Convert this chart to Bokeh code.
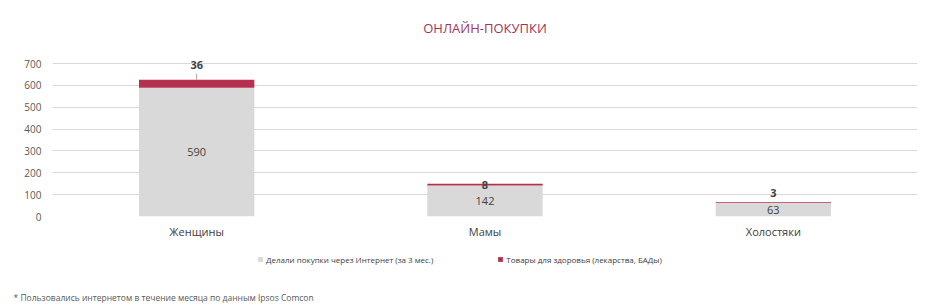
from bokeh.plotting import figure
from bokeh.layouts import column
from bokeh.models import ColumnDataSource, Legend, LegendItem, FactorRange, Range1d, Label
from bokeh.embed import file_html
from bokeh.resources import INLINE
from bokeh.core.properties import value

categories = ["Женщины", "Мамы", "Холостяки"]
online = [590, 142, 63]
health = [36, 8, 3]
series_names = ["Делали покупки через Интернет (за 3 мес.)", "Товары для здоровья (лекарства, БАДы)"]
y_ticks = [0, 100, 200, 300, 400, 500, 600, 700]
title_text = "ОНЛАЙН-ПОКУПКИ"
footnote = "* Пользовались интернетом в течение месяца по данным Ipsos Comcon"

GRAY = "#d9d9d9"
RED = "#b5304f"
FONT = "Open Sans"

top_total = [a + b for a, b in zip(online, health)]
src = ColumnDataSource(dict(
    cat=categories, online=online, health=health,
    base=[0] * 3, top_total=top_total,
    mid_online=[v / 2 for v in online],
    mid_health=[a + b / 2 for a, b in zip(online, health)],
    lab_online=[str(v) for v in online],
    lab_health=[str(v) for v in health],
    health_off=[-19, 0, -9],
))

H1 = 250
p = figure(x_range=FactorRange(*categories, range_padding=0), y_range=Range1d(0, 760),
           width=939, height=H1, output_backend="svg", toolbar_location=None,
           min_border_left=52, min_border_right=22, min_border_top=50, min_border_bottom=34)
p.outline_line_color = None
p.background_fill_color = "white"
p.border_fill_color = "white"

p.title.text = title_text
p.title.align = "center"
p.title.text_color = "#a3345a"
p.title.text_font = FONT
p.title.text_font_size = "13px"
p.title.text_font_style = "normal"
p.title.offset = -7
p.title.standoff = 27

r1 = p.vbar(x="cat", bottom="base", top="online", width=0.4, source=src, color=GRAY, line_color=None)
r2 = p.vbar(x="cat", bottom="online", top="top_total", width=0.4, source=src, color=RED, line_color=None)

p.text(x="cat", y="mid_online", text="lab_online", source=src, text_align="center",
       text_baseline="middle", text_font=value(FONT), text_font_size="11px", text_color="#404040")
p.text(x="cat", y="mid_health", text="lab_health", source=src, text_align="center",
       text_baseline="middle", text_font=value(FONT), text_font_size="11px", text_color="#404040",
       text_font_style="bold", y_offset="health_off")
p.segment(x0=[categories[0]], y0=[top_total[0]], x1=[categories[0]], y1=[top_total[0] + 28],
          line_color="#a6a6a6", line_width=1)

p.yaxis.ticker = y_ticks
p.yaxis.axis_line_color = None
p.yaxis.major_tick_line_color = None
p.yaxis.minor_tick_line_color = None
p.yaxis.major_label_text_font = FONT
p.yaxis.major_label_text_font_size = "10px"
p.yaxis.major_label_text_color = "#595959"
p.yaxis.major_label_standoff = 5

p.xaxis.axis_line_color = None
p.xaxis.major_tick_line_color = None
p.xaxis.major_label_text_font = FONT
p.xaxis.major_label_text_font_size = "11px"
p.xaxis.major_label_text_color = "#404040"
p.xaxis.major_label_standoff = 1

p.xgrid.grid_line_color = None
p.ygrid.grid_line_color = "#d9d9d9"
p.ygrid.ticker = y_ticks

# bottom strip: legend and footnote
H2 = 306 - H1
q = figure(x_range=Range1d(0, 939), y_range=Range1d(0, H2), width=939, height=H2,
           output_backend="svg", toolbar_location=None, min_border=0,
           x_axis_type=None, y_axis_type=None)
q.frame_align = False
q.grid.visible = False
q.outline_line_color = None
q.background_fill_color = "white"
q.border_fill_color = "white"
d1 = q.vbar(x=[-50], top=[-50], width=1, color=GRAY, line_color=None)
d2 = q.vbar(x=[-50], top=[-50], width=1, color=RED, line_color=None)

legend = Legend(items=[LegendItem(label=series_names[0], renderers=[d1]),
                       LegendItem(label=series_names[1], renderers=[d2])],
                orientation="horizontal", location=(257, 41),
                label_text_font=FONT, label_text_font_size="8px", label_text_color="#404040",
                glyph_width=6, glyph_height=6, label_standoff=3, spacing=64,
                label_height=12, border_line_color=None, background_fill_alpha=0,
                padding=0, margin=0)
q.add_layout(legend)

q.add_layout(Label(x=13, y=9, text=footnote, text_baseline="middle",
                   text_font=FONT, text_font_size="8.5px", text_color="#595959"))

layout = column(p, q, spacing=0)
open("out.html", "w").write(file_html(layout, INLINE))
